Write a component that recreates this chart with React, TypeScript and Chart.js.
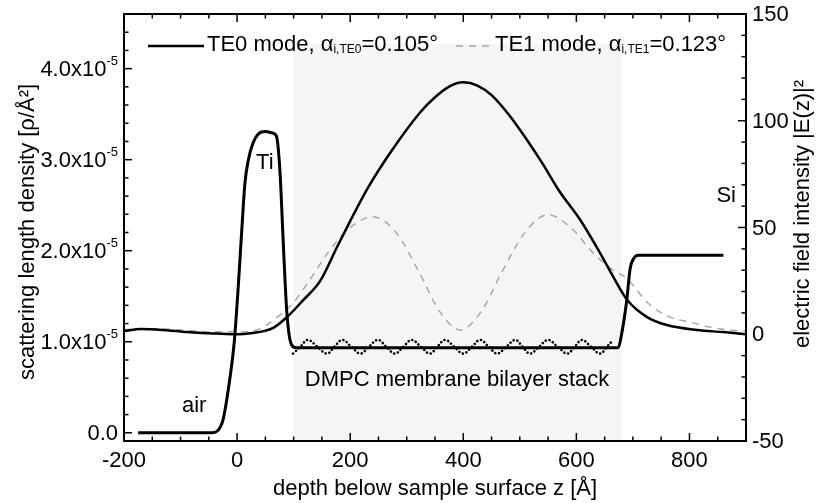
import React, { useEffect, useRef } from "react";
import { Chart, registerables } from "chart.js";

Chart.register(...registerables);

const FONT_FAMILY = "'Liberation Sans', Arial, Helvetica, sans-serif";
const font = (px: number) => `${px}px ${FONT_FAMILY}`;

// Scattering length density profile: depth (Å) and SLD in units of 1e-5 Å^-2
const SLD_DEPTH = [-175, -45, -35, -25, -15, -5, 2, 8, 14, 20, 28, 37, 50, 64, 70, 76, 82, 88, 96, 104, 674, 679, 689, 695, 702, 710, 860];
const SLD_VALUE = [0, 0, 0.02, 0.14, 0.5, 1.0, 1.6, 2.2, 2.75, 3.0, 3.18, 3.28, 3.31, 3.29, 3.25, 2.85, 2.04, 1.32, 0.97, 0.935, 0.935, 1.05, 1.45, 1.8, 1.92, 1.95, 1.95];

// Bilayer modulation of the SLD inside the membrane stack
const BILAYER_DEPTH = [99, 112, 125, 142, 159, 172, 186, 202, 218, 233, 249, 264, 279, 294, 309, 325, 341, 354, 368, 384, 400, 415, 430, 445, 460, 476, 492, 505, 518, 534, 550, 567, 584, 597, 610, 626, 642, 654, 665];
const BILAYER_VALUE = [0.87, 0.945, 1.02, 0.945, 0.87, 0.945, 1.02, 0.945, 0.87, 0.945, 1.02, 0.945, 0.87, 0.945, 1.02, 0.945, 0.87, 0.945, 1.02, 0.945, 0.87, 0.945, 1.02, 0.945, 0.87, 0.945, 1.02, 0.945, 0.87, 0.945, 1.02, 0.945, 0.87, 0.945, 1.02, 0.945, 0.87, 0.945, 1.02];

// Electric field intensity |E(z)|^2 of the TE0 mode
const TE0_DEPTH = [-200, -170, -130, -88, -50, -7, 28, 64, 88, 117, 147, 177, 200, 230, 276, 324, 350, 375, 400, 425, 450, 480, 510, 540, 570, 607, 642, 665, 690, 725, 760, 813, 860, 900];
const TE0_INTENSITY = [1.5, 2.5, 2, 1, 0.5, 0, 0.6, 3, 8, 16, 25, 41, 53, 68, 87, 104, 111, 116, 118, 116.5, 112, 103, 92, 80, 67, 53.5, 38, 27, 16, 8, 4.3, 2, 1, 0];

// Electric field intensity |E(z)|^2 of the TE1 mode
const TE1_DEPTH = [-200, -150, -100, -50, 0, 35, 71, 100, 130, 160, 200, 240, 280, 320, 360, 395, 430, 470, 510, 550, 590, 630, 665, 690, 704, 725, 766, 801, 833, 868, 900];
const TE1_INTENSITY = [2.2, 2.6, 2, 1.2, 1.2, 2, 8, 15, 26, 38, 50, 55, 48, 30, 10, 2, 10, 30, 48, 56, 50, 38, 30, 26, 21.7, 15, 8, 5.7, 3.5, 2, 1.5];

// Axes
const X_RANGE = [-200, 900];
const X_TICKS = [-200, 0, 200, 400, 600, 800];
const X_MINOR_STEP = 50;
const SLD_RANGE = [-0.09, 4.6];
const SLD_TICKS = [0, 1, 2, 3, 4];
const SLD_TICK_LABELS = ["0.0", "1.0x10", "2.0x10", "3.0x10", "4.0x10"];
const SLD_TICK_EXPONENT = "-5";
const SLD_MINOR_STEP = 0.2;
const FIELD_RANGE = [-50, 150];
const FIELD_TICKS = [-50, 0, 50, 100, 150];
const FIELD_MINOR_STEP = 10;

// Membrane stack extent (Å)
const STACK_RANGE = [100, 680];

const X_TITLE = "depth below sample surface z [Å]";
const SLD_TITLE = "scattering length density [ρ/Å²]";
const FIELD_TITLE = "electric field intensity |E(z)|²";

// Region labels, placed in depth / SLD coordinates
const REGION_LABELS = [
  { text: "Ti", z: 49, sld: 2.96 },
  { text: "air", z: -76, sld: 0.3 },
  { text: "Si", z: 865, sld: 2.6 },
  { text: "DMPC membrane bilayer stack", z: 389, sld: 0.58 },
];

const LEGEND = [
  { name: "TE0 mode, α", sub: "i,TE0", tail: "=0.105°", dashed: false },
  { name: "TE1 mode, α", sub: "i,TE1", tail: "=0.123°", dashed: true },
];

const TE1_COLOR = "#a8a8a8";

const toPoints = (xs: number[], ys: number[]) => xs.map((x, i) => ({ x, y: ys[i] }));

const decorations = {
  id: "decorations",
  beforeDatasetsDraw(chart: any) {
    const { ctx, chartArea: a, scales } = chart;
    const x0 = scales.x.getPixelForValue(STACK_RANGE[0]);
    const x1 = scales.x.getPixelForValue(STACK_RANGE[1]);
    ctx.save();
    ctx.fillStyle = "rgba(0,0,0,0.04)";
    ctx.fillRect(x0, a.top + 30, x1 - x0, a.bottom - a.top - 30);
    ctx.restore();
  },
  afterDatasetsDraw(chart: any) {
    const { ctx, chartArea: a, scales } = chart;
    const xs = scales.x;
    const ys = scales.y;
    const y2 = scales.y2;
    ctx.save();
    ctx.strokeStyle = "#000";
    ctx.fillStyle = "#000";

    // frame
    ctx.lineWidth = 2;
    ctx.strokeRect(a.left, a.top, a.right - a.left, a.bottom - a.top);

    const line = (x1: number, y1: number, x2: number, y2p: number) => {
      ctx.beginPath();
      ctx.moveTo(x1, y1);
      ctx.lineTo(x2, y2p);
      ctx.stroke();
    };
    const MAJOR = 8;
    const MINOR = 4.5;
    ctx.lineWidth = 1.5;

    // depth ticks, bottom and top, pointing inward
    const nx = Math.round((X_RANGE[1] - X_RANGE[0]) / X_MINOR_STEP);
    for (let k = 0; k <= nx; k++) {
      const v = X_RANGE[0] + k * X_MINOR_STEP;
      const px = xs.getPixelForValue(v);
      const len = X_TICKS.includes(v) ? MAJOR : MINOR;
      line(px, a.bottom, px, a.bottom - len);
      line(px, a.top, px, a.top + len);
    }
    // SLD ticks on the left
    const ns = Math.round(SLD_RANGE[1] / SLD_MINOR_STEP);
    for (let k = 0; k <= ns; k++) {
      const v = k * SLD_MINOR_STEP;
      const py = ys.getPixelForValue(v);
      const isMajor = k % 5 === 0;
      line(a.left, py, a.left + (isMajor ? MAJOR : MINOR), py);
    }
    // field ticks on the right
    const nf = Math.round((FIELD_RANGE[1] - FIELD_RANGE[0]) / FIELD_MINOR_STEP);
    for (let k = 0; k <= nf; k++) {
      const v = FIELD_RANGE[0] + k * FIELD_MINOR_STEP;
      const py = y2.getPixelForValue(v);
      const len = FIELD_TICKS.includes(v) ? MAJOR : MINOR;
      line(a.right, py, a.right - len, py);
    }

    // tick labels
    ctx.font = font(22);
    ctx.textBaseline = "middle";
    ctx.textAlign = "center";
    X_TICKS.forEach((v) => {
      ctx.fillText(String(v), xs.getPixelForValue(v), 461);
    });
    ctx.textAlign = "left";
    FIELD_TICKS.forEach((v) => {
      ctx.fillText(String(v), a.right + 6, y2.getPixelForValue(v) + 1);
    });
    const labelRight = a.left - 6;
    SLD_TICKS.forEach((v, i) => {
      const py = ys.getPixelForValue(v) + 1;
      if (v === 0) {
        ctx.font = font(22);
        ctx.textAlign = "right";
        ctx.fillText(SLD_TICK_LABELS[i], labelRight, py);
        return;
      }
      ctx.font = font(13);
      const expW = ctx.measureText(SLD_TICK_EXPONENT).width;
      ctx.textAlign = "left";
      ctx.fillText(SLD_TICK_EXPONENT, labelRight - expW, py - 8);
      ctx.font = font(22);
      ctx.textAlign = "right";
      ctx.fillText(SLD_TICK_LABELS[i], labelRight - expW, py);
    });

    // axis titles
    ctx.font = font(22);
    ctx.textAlign = "center";
    ctx.fillText(X_TITLE, (a.left + a.right) / 2, 489);
    ctx.save();
    ctx.translate(28, 232);
    ctx.rotate(-Math.PI / 2);
    ctx.fillText(SLD_TITLE, 0, 0);
    ctx.restore();
    ctx.save();
    ctx.translate(803, 214);
    ctx.rotate(-Math.PI / 2);
    ctx.fillText(FIELD_TITLE, 0, 0);
    ctx.restore();

    // region labels
    ctx.font = font(22);
    ctx.textAlign = "center";
    REGION_LABELS.forEach((l) => {
      ctx.fillText(l.text, xs.getPixelForValue(l.z), ys.getPixelForValue(l.sld));
    });

    // legend
    const legendY = 46;
    const baseY = 51;
    const starts = [148, 456];
    const ends = [204, 490];
    const textStarts = [207, 495];
    LEGEND.forEach((item, i) => {
      ctx.save();
      ctx.lineWidth = item.dashed ? 1.5 : 2.5;
      ctx.strokeStyle = item.dashed ? TE1_COLOR : "#000";
      ctx.setLineDash(item.dashed ? [7, 6] : []);
      line(starts[i], legendY, ends[i], legendY);
      ctx.restore();
      let x = textStarts[i];
      ctx.textAlign = "left";
      ctx.textBaseline = "alphabetic";
      ctx.font = font(22);
      ctx.fillText(item.name, x, baseY);
      x += ctx.measureText(item.name).width;
      ctx.font = font(12);
      ctx.fillText(item.sub, x, baseY + 2);
      x += ctx.measureText(item.sub).width;
      ctx.font = font(22);
      ctx.fillText(item.tail, x, baseY);
    });

    ctx.restore();
  },
};

export default function App() {
  const ref = useRef<HTMLCanvasElement>(null);

  useEffect(() => {
    const canvas = ref.current;
    if (!canvas) return;
    const chart = new Chart(canvas, {
      type: "line",
      data: {
        datasets: [
          {
            label: "SLD",
            data: toPoints(SLD_DEPTH, SLD_VALUE),
            yAxisID: "y",
            borderColor: "#000",
            borderWidth: 3,
            pointRadius: 0,
            cubicInterpolationMode: "monotone",
          },
          {
            label: "TE0",
            data: toPoints(TE0_DEPTH, TE0_INTENSITY),
            yAxisID: "y2",
            borderColor: "#000",
            borderWidth: 2.5,
            pointRadius: 0,
            cubicInterpolationMode: "monotone",
          },
          {
            label: "bilayers",
            data: toPoints(BILAYER_DEPTH, BILAYER_VALUE),
            yAxisID: "y",
            borderColor: "#000",
            borderWidth: 2.6,
            borderDash: [0.1, 3.8],
            borderCapStyle: "round",
            pointRadius: 0,
            tension: 0.4,
          },
          {
            label: "TE1",
            data: toPoints(TE1_DEPTH, TE1_INTENSITY),
            yAxisID: "y2",
            borderColor: TE1_COLOR,
            borderWidth: 1.5,
            borderDash: [7, 6],
            pointRadius: 0,
            cubicInterpolationMode: "monotone",
          },
        ],
      },
      options: {
        responsive: false,
        animation: false,
        events: [],
        layout: { padding: { top: 14, left: 0, right: 0, bottom: 0 } },
        plugins: { legend: { display: false }, tooltip: { enabled: false } },
        scales: {
          x: {
            type: "linear",
            position: "bottom",
            min: X_RANGE[0],
            max: X_RANGE[1],
            grid: { display: false, drawTicks: false },
            border: { display: false },
            ticks: { display: false },
            afterFit: (s: any) => {
              s.height = 62;
            },
          },
          y: {
            type: "linear",
            position: "left",
            min: SLD_RANGE[0],
            max: SLD_RANGE[1],
            grid: { display: false, drawTicks: false },
            border: { display: false },
            ticks: { display: false },
            afterFit: (s: any) => {
              s.width = 124;
            },
          },
          y2: {
            type: "linear",
            position: "right",
            min: FIELD_RANGE[0],
            max: FIELD_RANGE[1],
            grid: { display: false, drawTicks: false },
            border: { display: false },
            ticks: { display: false },
            afterFit: (s: any) => {
              s.width = 72;
            },
          },
        },
      },
      plugins: [decorations],
    } as any);
    return () => chart.destroy();
  }, []);

  return (
    <div style={{ position: "fixed", left: 0, top: 0, width: 818, height: 503, background: "#fff" }}>
      <canvas ref={ref} width={818} height={503} style={{ display: "block", width: 818, height: 503 }} />
    </div>
  );
}
